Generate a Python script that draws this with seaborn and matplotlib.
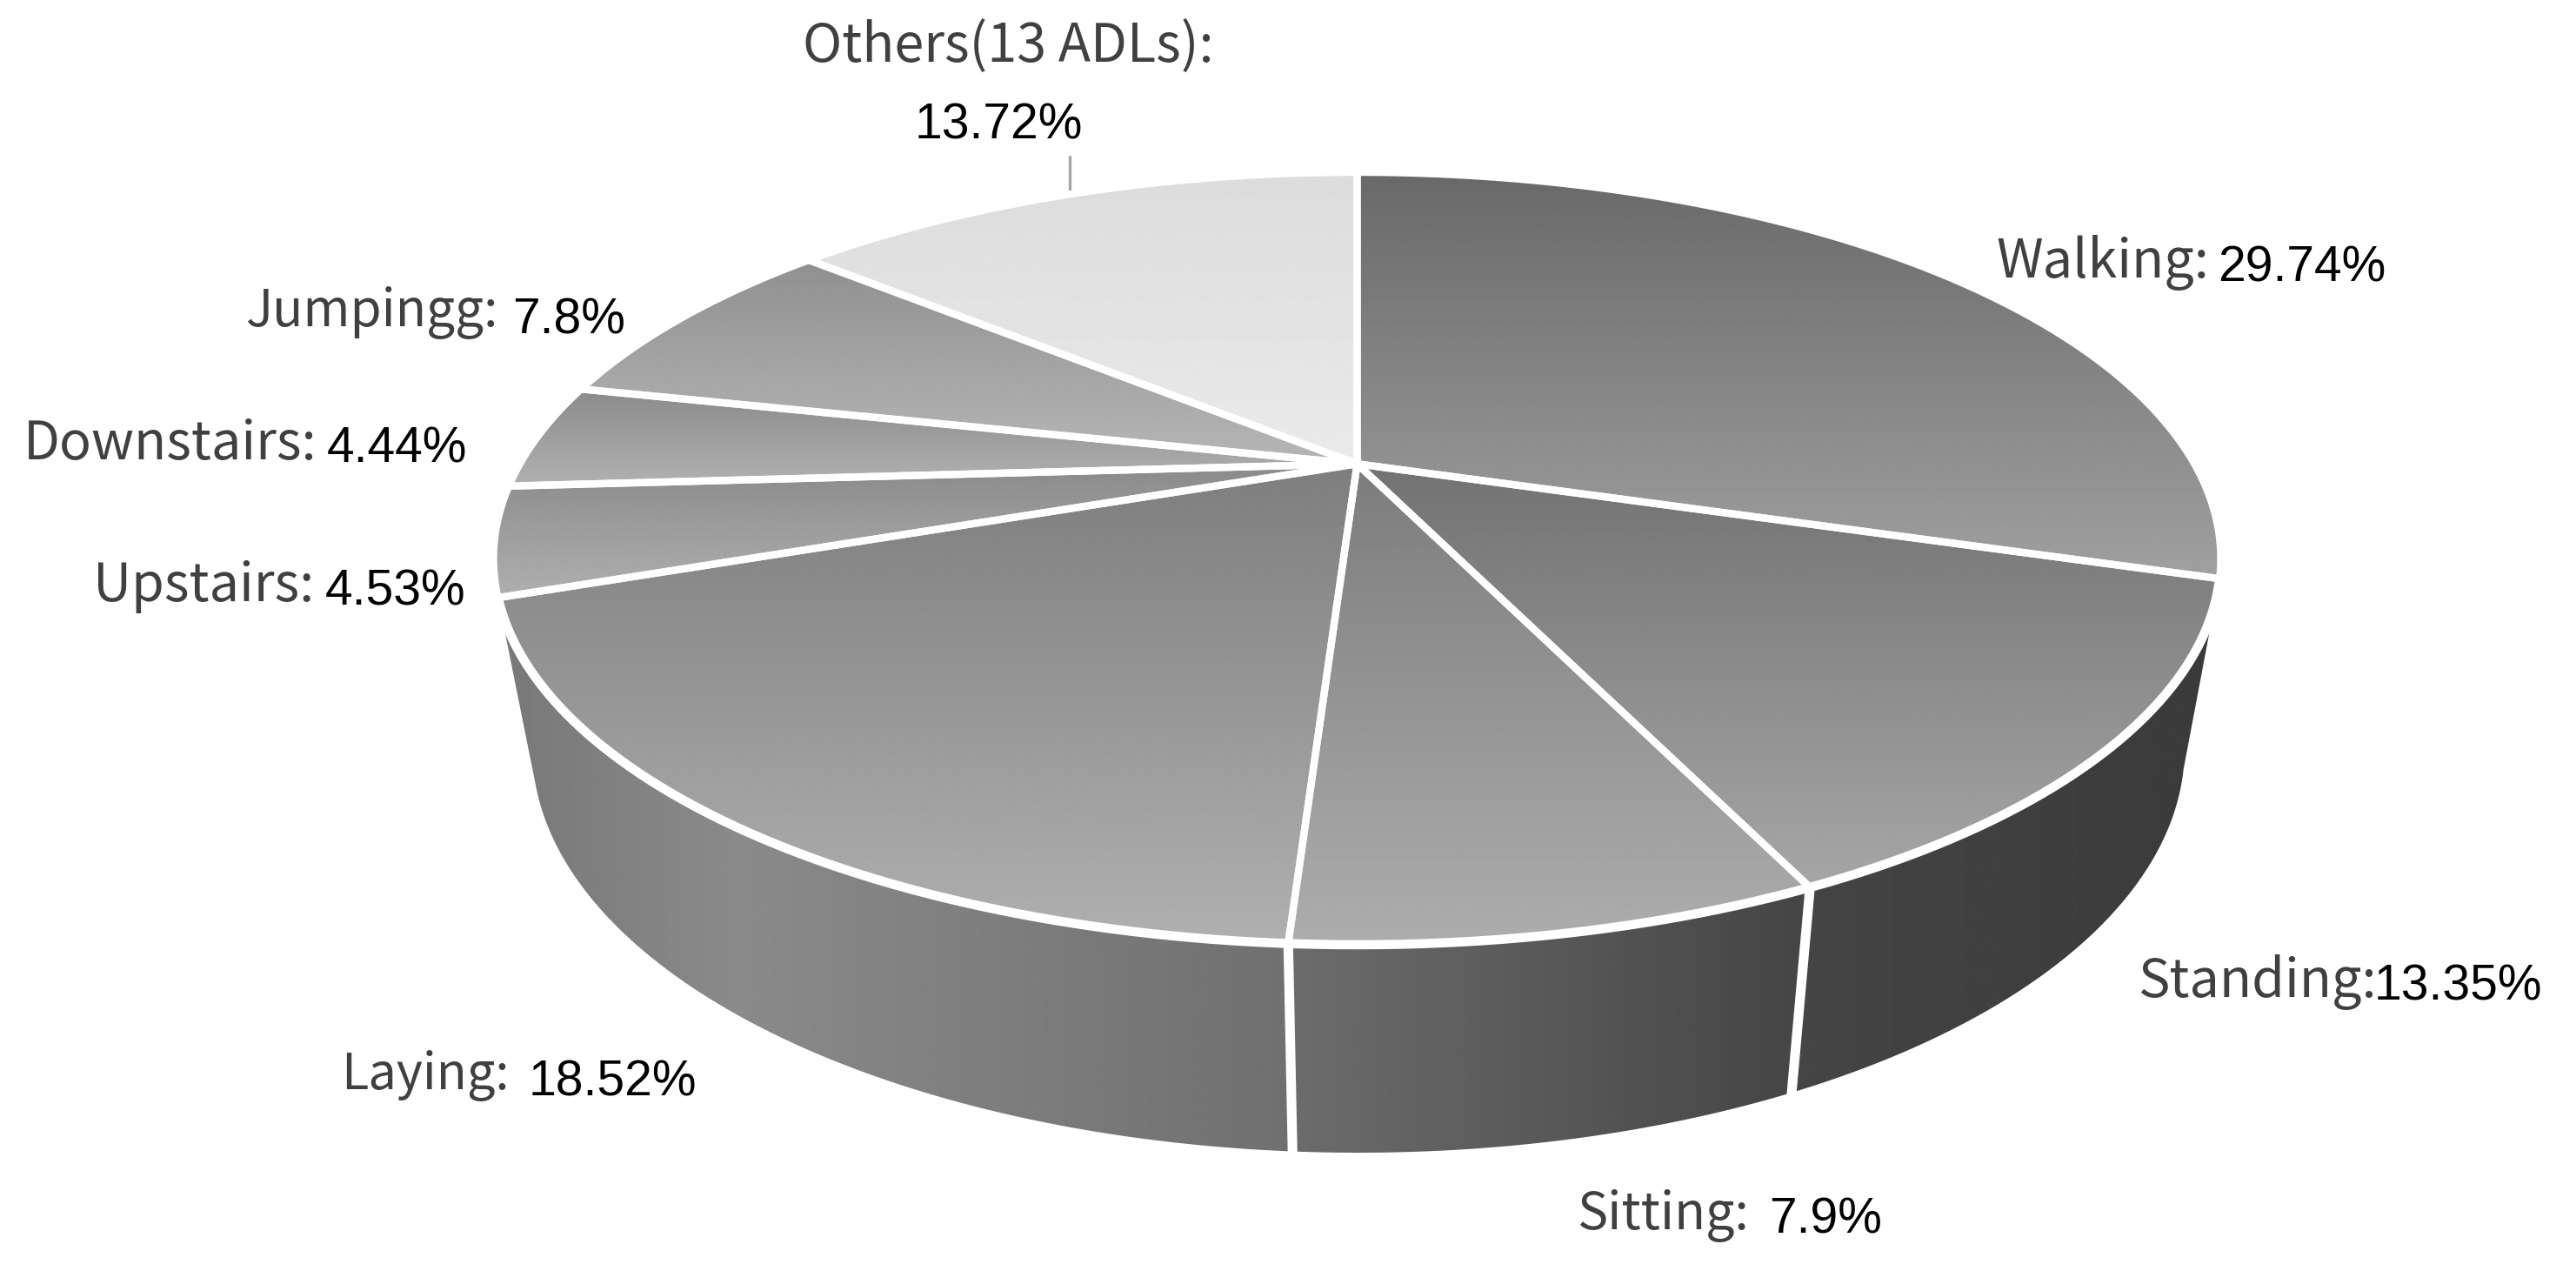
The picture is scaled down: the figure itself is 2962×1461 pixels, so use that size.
import numpy as np
import matplotlib
matplotlib.use("Agg")
import matplotlib.pyplot as plt
from matplotlib.patches import Polygon
import seaborn as sns

categories = ["Walking", "Standing", "Sitting", "Laying", "Upstairs", "Downstairs", "Jumpingg", "Others(13 ADLs)"]
shares = [29.74, 13.35, 7.9, 18.52, 4.53, 4.44, 7.8, 13.72]
value_labels = ["29.74%", "13.35%", "7.9%", "18.52%", "4.53%", "4.44%", "7.8%", "13.72%"]

# vertical grey gradient of each top face (upper, lower)
top_greys = [(0x69, 0xa0), (0x72, 0xa6), (0x7c, 0xad), (0x7e, 0xb0),
             (0x8a, 0xb0), (0x8a, 0xb2), (0x90, 0xb6), (0xdc, 0xea)]
# left edges and vertical centres of label texts (pixels)
label_pos = [(2295, 302), (2458, 1129), (1813, 1397), (392, 1237), (107, 674), (27, 511), (282, 360), (923, 54)]
value_pos = [(2550, 308), (2730, 1134), (2034, 1402), (608, 1245), (374, 680), (376, 516), (589, 369), (1052, 144)]
label_sizes = [44, 44, 42.5, 41.5, 44, 44, 42, 44]

W, H = 2962, 1461
sns.set_theme(style="white")
fig = plt.figure(figsize=(W / 100, H / 100), dpi=100, facecolor="white")
ax = fig.add_axes([0, 0, 1, 1])

A = -0.245


def project(theta, cx, cy, rx, ry):
    x, y = np.sin(theta), -np.cos(theta)
    d = 1 + A * y
    return cx + rx * x * np.sqrt(1 - A ** 2) / d, cy + ry * (y + A) / d


TOP = (1560.5, 642, 993, 444)
BOT = (1562, 860, 950, 465)
LW_TOP = 6.0
LW_FRONT = 7.6
LW_SIDE = 8.0


def gradient(poly, vertical, xs, greys):
    """Fill polygon with a linear grey gradient clipped to it."""
    lo, hi = (poly[:, 1].min(), poly[:, 1].max()) if vertical else (poly[:, 0].min(), poly[:, 0].max())
    t = np.linspace(lo, hi, 512)
    v = np.interp(t, xs if xs is not None else [lo, hi], greys)
    img = v[:, None] if vertical else v[None, :]
    x0, x1 = poly[:, 0].min(), poly[:, 0].max()
    y0, y1 = poly[:, 1].min(), poly[:, 1].max()
    im = ax.imshow(img, cmap="gray", vmin=0, vmax=255, aspect="auto", interpolation="bilinear",
                   extent=(x0, x1, y1, y0), origin="upper", zorder=2)
    p = Polygon(poly, closed=True, transform=ax.transData, fc="none", ec="none")
    ax.add_patch(p)
    im.set_clip_path(p)


edges = np.cumsum([0] + shares) / sum(shares) * 2 * np.pi

# side wall: Standing, Sitting, Laying are the visible slices
side_stops = {
    1: ([2075, 2552], [0x45, 0x3a]),
    2: ([1485, 2060], [0x6c, 0x46]),
    3: ([570, 850, 1480], [0x78, 0x8a, 0x70]),
}
for i, (xs, gs) in side_stops.items():
    th = np.linspace(edges[i], edges[i + 1], 120)
    tx, ty = project(th, *TOP)
    bx, by = project(th, *BOT)
    poly = np.column_stack([np.r_[tx, bx[::-1]], np.r_[ty, by[::-1]]])
    gradient(poly, False, xs, gs)
    if i < 3:
        ax.plot([tx[-1], bx[-1]], [ty[-1], by[-1]], color="white", lw=LW_SIDE, zorder=3, solid_capstyle="projecting")

# top faces
ax_cx = TOP[0]
ax_cy = TOP[1] + TOP[3] * A
for i in range(len(shares)):
    th = np.linspace(edges[i], edges[i + 1], 200)
    tx, ty = project(th, *TOP)
    poly = np.column_stack([np.r_[ax_cx, tx], np.r_[ax_cy, ty]])
    gradient(poly, True, None, top_greys[i])
for i in range(len(shares)):
    th = np.linspace(edges[i], edges[i + 1], 200)
    tx, ty = project(th, *TOP)
    poly = np.column_stack([np.r_[ax_cx, tx], np.r_[ax_cy, ty]])
    ax.add_patch(Polygon(poly, closed=True, fc="none", ec="white", lw=LW_TOP, joinstyle="miter", zorder=4))
# heavier rim along the front of the disc
th = np.linspace(edges[1], edges[4], 400)
tx, ty = project(th, *TOP)
ax.plot(tx, ty, color="white", lw=LW_FRONT, zorder=4, solid_capstyle="round")

# leader line for Others
ax.plot([1230, 1230], [180, 224], color="#a6a6a6", lw=2.4, zorder=1)

label_font = dict(family="Noto Sans CJK SC", color="#404040", va="center", ha="left")
value_font = dict(family="Liberation Sans", fontsize=41, color="black", va="center", ha="left")
for c, v, lp, vp, ls in zip(categories, value_labels, label_pos, value_pos, label_sizes):
    ax.text(lp[0], lp[1], c + ":", zorder=5, fontsize=ls, **label_font)
    ax.text(vp[0], vp[1], v, zorder=5, **value_font)

ax.set_xlim(0, W)
ax.set_ylim(H, 0)
ax.axis("off")
fig.savefig("out.png", dpi=100, facecolor="white")
